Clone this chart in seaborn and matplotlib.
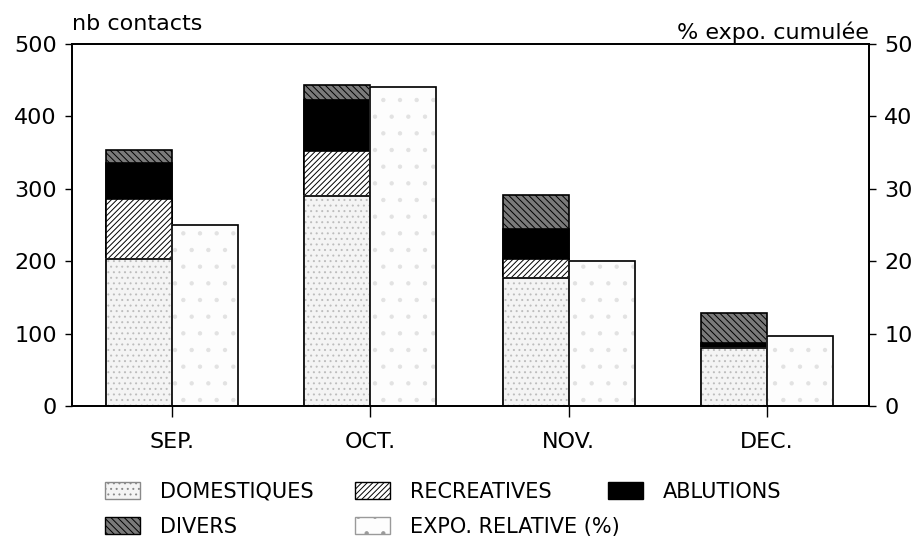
import matplotlib
matplotlib.use("Agg")
import matplotlib.pyplot as plt
from matplotlib.patches import Patch
import seaborn as sns
import numpy as np
import pandas as pd

# ---- data ----
months = ["SEP.", "OCT.", "NOV.", "DEC."]
domestiques = [203, 290, 177, 80]
recreatives = [83, 62, 26, 0]
ablutions = [50, 71, 41, 7]
divers = [18, 20, 47, 42]
expo_relative = [25, 44, 20, 9.6]

left_ticks = [0, 100, 200, 300, 400, 500]
right_ticks = [0, 10, 20, 30, 40, 50]

sns.set_theme(style="white")
plt.rcParams["font.family"] = ["DejaVu Sans"]
plt.rcParams["hatch.linewidth"] = 0.7
for k in ("text.color", "axes.labelcolor", "xtick.color", "ytick.color"):
    plt.rcParams[k] = "black"

pos = np.arange(len(months))
w = 0.333
c1 = np.array(domestiques, dtype=float)
c2 = c1 + np.array(recreatives)
c3 = c2 + np.array(ablutions)
c4 = c3 + np.array(divers)

df = pd.DataFrame({
    "xs": pos - w / 2, "xe": pos + w / 2,
    "c1": c1, "c2": c2, "c3": c3, "c4": c4,
    "expo": expo_relative,
})

fig = plt.figure(figsize=(9.22, 5.41), dpi=100)
ax = fig.add_axes([72 / 922, 1 - 406 / 541, (869 - 72) / 922, (406 - 44) / 541])

common = dict(native_scale=True, width=w, errorbar=None, linewidth=1.2, ax=ax)
sns.barplot(data=df, x="xs", y="c4", color="#7a7a7a", hatch="\\\\\\\\\\", edgecolor="black", **common)
sns.barplot(data=df, x="xs", y="c3", color="black", edgecolor="black", **common)
sns.barplot(data=df, x="xs", y="c2", color="white", hatch="//////", edgecolor="black", **common)
sns.barplot(data=df, x="xs", y="c1", color="#f4f4f4", hatch="...", edgecolor="#bdbdbd", **common)
sns.barplot(data=df, x="xs", y="c1", color="black", fill=False, **common)

ax2 = ax.twinx()
sns.barplot(data=df, x="xe", y="expo", color="#fdfdfd", hatch=".", edgecolor="#e2e2e2",
            native_scale=True, width=w, errorbar=None, linewidth=1.2, ax=ax2)
sns.barplot(data=df, x="xe", y="expo", color="black", fill=False,
            native_scale=True, width=w, errorbar=None, linewidth=1.2, ax=ax2)

for a in (ax, ax2):
    a.set_xlim(-0.505, 3.515)
    a.set_xlabel("")
    a.set_ylabel("")
    for s in a.spines.values():
        s.set_visible(True)
        s.set_color("black")
        s.set_linewidth(1.3)

ax.set_ylim(0, 500)
ax2.set_ylim(0, 50)
ax.set_yticks(left_ticks)
ax.set_yticklabels([str(t) for t in left_ticks], fontsize=16)
ax2.set_yticks(right_ticks)
ax2.set_yticklabels([str(t) for t in right_ticks], fontsize=16)
ax.set_xticks(pos)
ax.set_xticklabels(months, fontsize=16)
ax.tick_params(axis="y", direction="out", length=5, width=1, pad=6, left=True)
ax2.tick_params(axis="y", direction="out", length=5, width=1, pad=6, right=True)
ax.tick_params(axis="x", direction="out", length=8, width=1, pad=11, bottom=True)
ax2.tick_params(axis="x", bottom=False, labelbottom=False)

fig.text(72 / 922, 1 - 24 / 541, "nb contacts", fontsize=16, ha="left", va="center")
fig.text(869 / 922, 1 - 32 / 541, "% expo. cumulée", fontsize=16, ha="right", va="center")

h_dom = Patch(facecolor="#f4f4f4", hatch="...", edgecolor="#8a8a8a", linewidth=1)
h_div = Patch(facecolor="#7a7a7a", hatch="\\\\\\\\\\", edgecolor="black", linewidth=1)
h_rec = Patch(facecolor="white", hatch="//////", edgecolor="black", linewidth=1)
h_exp = Patch(facecolor="#fdfdfd", hatch=".", edgecolor="#9a9a9a", linewidth=1)
h_abl = Patch(facecolor="black", edgecolor="black", linewidth=1)

leg_kw = dict(frameon=False, fontsize=15, handlelength=1.68, handleheight=0.85, handletextpad=0.96,
              columnspacing=2.0, labelspacing=0.72, borderpad=0, borderaxespad=0, loc="upper left")
leg1 = fig.legend([h_dom, h_div, h_rec, h_exp],
                  ["DOMESTIQUES", "DIVERS", "RECREATIVES", "EXPO. RELATIVE (%)"],
                  ncol=2, bbox_to_anchor=(105 / 922, 1 - 482 / 541), **leg_kw)
leg2 = fig.legend([h_abl], ["ABLUTIONS"], ncol=1, bbox_to_anchor=(608 / 922, 1 - 482 / 541), **leg_kw)

fig.savefig("out.png", dpi=100)
